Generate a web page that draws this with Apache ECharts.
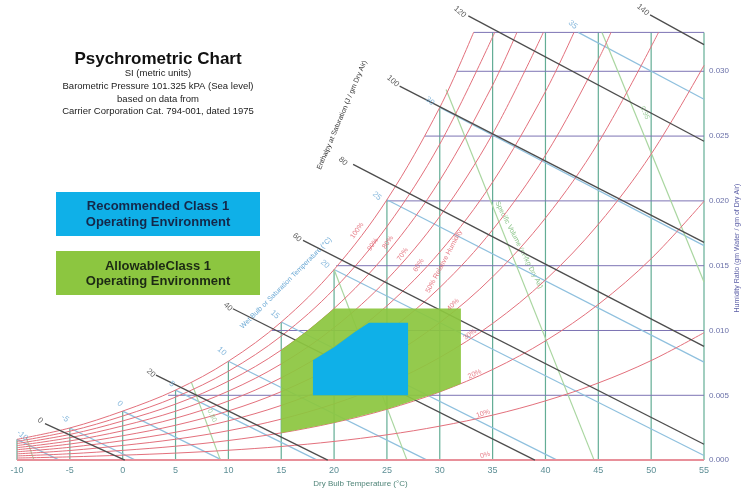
<!DOCTYPE html>
<html><head><meta charset="utf-8">
<script src="https://cdn.jsdelivr.net/npm/echarts@6/dist/echarts.min.js"></script>
<style>html,body{margin:0;padding:0;background:#fff}#chart{width:745px;height:493px}</style>
</head><body><div id="chart"></div>
<script>
// ---------- data (dry bulb °C, humidity ratio kg/kg) ----------
const dryBulbTicks = [-10,-5,0,5,10,15,20,25,30,35,40,45,50,55];
const dryBulbTop = [0.00160,0.00248,0.00378,0.00540,0.00763,0.01065,0.01470,0.02009,0.02721,0.033,0.033,0.033,0.033,0.033];
const humidityLevels = [0.005,0.010,0.015,0.020,0.025,0.030,0.033];
const humidityStartT = [4.3,14.1,20.2,25.0,28.6,31.6,33.2];

const rh100 = [[-10,0.00160],[-5,0.00248],[0,0.00378],[5,0.00540],[10,0.00763],[15,0.01065],[20,0.01470],[25,0.02009],[30,0.02721],[33.2,0.033]];
const rh90 = [[-10,0.00144],[-5,0.00223],[0,0.00340],[5,0.00486],[10,0.00686],[15,0.00957],[20,0.01320],[25,0.01802],[30,0.02438],[35.2,0.033]];
const rh80 = [[-10,0.00128],[-5,0.00198],[0,0.00302],[5,0.00432],[10,0.00609],[15,0.00849],[20,0.01170],[25,0.01597],[30,0.02158],[35,0.02893],[37.3,0.033]];
const rh70 = [[-10,0.00112],[-5,0.00173],[0,0.00264],[5,0.00377],[10,0.00532],[15,0.00742],[20,0.01022],[25,0.01393],[30,0.01880],[35,0.02517],[39.8,0.033]];
const rh60 = [[-10,0.00096],[-5,0.00148],[0,0.00226],[5,0.00323],[10,0.00456],[15,0.00635],[20,0.00874],[25,0.01190],[30,0.01605],[35,0.02145],[40,0.02844],[42.7,0.033]];
const rh50 = [[-10,0.00080],[-5,0.00124],[0,0.00188],[5,0.00269],[10,0.00379],[15,0.00528],[20,0.00726],[25,0.00988],[30,0.01331],[35,0.01777],[40,0.02352],[45,0.03091],[46.2,0.033]];
const rh40 = [[-10,0.00064],[-5,0.00099],[0,0.00150],[5,0.00215],[10,0.00303],[15,0.00422],[20,0.00580],[25,0.00788],[30,0.01061],[35,0.01414],[40,0.01868],[45,0.02449],[50.7,0.033]];
const rh30 = [[-10,0.00048],[-5,0.00074],[0,0.00113],[5,0.00161],[10,0.00227],[15,0.00316],[20,0.00434],[25,0.00589],[30,0.00792],[35,0.01054],[40,0.01390],[45,0.01819],[50,0.02361],[55,0.03045]];
const rh20 = [[-10,0.00032],[-5,0.00049],[0,0.00075],[5,0.00107],[10,0.00151],[15,0.00210],[20,0.00289],[25,0.00392],[30,0.00526],[35,0.00699],[40,0.00920],[45,0.01201],[50,0.01554],[55,0.01997]];
const rh10 = [[-10,0.00016],[-5,0.00025],[0,0.00038],[5,0.00054],[10,0.00076],[15,0.00105],[20,0.00144],[25,0.00195],[30,0.00262],[35,0.00347],[40,0.00457],[45,0.00595],[50,0.00768],[55,0.00983]];
const rh0 = [[-10,0],[55,0]];

const enthalpyLines = [
  [[-7.35,0.00282],[0.2,0]],
  [[3.15,0.00656],[19.4,0]],
  [[10.43,0.01168],[39.0,0]],
  [[17.06,0.01695],[55,0.00122]],
  [[21.8,0.02282],[55,0.00878]],
  [[26.2,0.02885],[55,0.0168]],
  [[32.7,0.03427],[55,0.0246]],
  [[49.9,0.03435],[55,0.03206]]
];
const enthalpyLabels = ['0','20','40','60','80','100','120','140'];
const enthalpyLabelPos = [[-7.82,0.00305],[2.68,0.00672],[9.96,0.01183],[16.49,0.01718],[20.84,0.02306],[25.57,0.02924],[31.91,0.03458],[49.22,0.03474]];

const wetBulbLines = [
  [[-10,0.00160],[-6.0,0]],
  [[-5,0.00248],[1.2,0]],
  [[0,0.00378],[9.4,0]],
  [[5,0.00540],[18.4,0]],
  [[10,0.00763],[28.8,0]],
  [[15,0.01065],[41.1,0]],
  [[20,0.01470],[55,0.00035]],
  [[25,0.02009],[55,0.00756]],
  [[30,0.02721],[55,0.01655]],
  [[43.1,0.033],[55,0.02784]]
];
const wetBulbLabels = ['-10','-5','0','5','10','15','20','25','30','35'];
const wetBulbLabelPos = [[-9.5,0.00190],[-5.46,0.00321],[-0.26,0.00435],[4.66,0.00588],[9.39,0.00840],[14.41,0.01122],[19.14,0.01512],[24.06,0.02038],[29.07,0.02771],[42.6,0.03359]];

const volumeLines = [
  [[-9.1,0.0017],[-8.4,0]],
  [[6.5,0.0060],[9.25,0]],
  [[20.0,0.0147],[26.9,0]],
  [[30.6,0.0286],[44.6,0]],
  [[45.35,0.033],[55,0.01374]]
];
const volumeLabels = ['0.80','0.95'];
const volumeLabelPos = [[8.45,0.00344],[49.4,0.02680]];

const rhLabels = ['100%','90%','80%','70%','60%','50% Relative Humidity','40%','30%','20%','10%','0%'];
const rhLabelPos = [[22.17,0.01771],[23.68,0.01664],[25.1,0.01680],[26.5,0.01588],[28.0,0.01504],[30.4,0.01534],[31.25,0.01199],[32.86,0.00970],[33.3,0.00664],[34.1,0.00359],[34.3,0.00038]];
const rhLabelRot = [55,55,55,55,58,62,45,35,25,20,15];

const allowableArea = [[15,0.0021],[15,0.0085],[17.5,0.0100],[20,0.0117],[32,0.0117],[32,0.0059],[30,0.00526],[25,0.00392],[20,0.00289],[15,0.0021]];
const recommendedArea = [[18,0.0050],[18,0.0077],[20,0.0087],[22,0.0099],[23.3,0.0106],[27,0.0106],[27,0.0050]];

// ---------- chart ----------
const FONT = 'Liberation Sans, Arial, sans-serif';
const series = [];
function addLine(data, color, width, z, smooth) {
  series.push({type:'line', data:data, symbol:'none', silent:true, smooth:smooth||false,
    lineStyle:{color:color, width:width}, z:z, clip:false, animation:false});
}
dryBulbTicks.forEach((t,i)=>addLine([[t,0],[t,dryBulbTop[i]]], '#63ad95', 1.2, 2));
humidityLevels.forEach((w,i)=>addLine([[humidityStartT[i],w],[55,w]], '#7d74b4', 1, 2));
wetBulbLines.forEach(d=>addLine(d, '#8fc0de', 1.2, 3));
volumeLines.forEach(d=>addLine(d, '#a9d6a0', 1.2, 3));
[rh100,rh90,rh80,rh70,rh60,rh50,rh40,rh30,rh20,rh10].forEach(d=>addLine(d, '#e3707c', 1, 4, 0.35));
addLine(rh0, '#e8909a', 2, 4);
enthalpyLines.forEach(d=>addLine(d, '#4d4d4d', 1.3, 4));

function polySeries(pts, color, z, opacity) {
  return {type:'custom', coordinateSystem:'cartesian2d', silent:true, z:z, animation:false,
    data:[pts[0]],
    renderItem:(params, api)=>({type:'polygon', shape:{points:pts.map(p=>api.coord(p))},
      style:{fill:color, opacity:opacity}})};
}
series.push(polySeries(allowableArea, '#8cc640', 6, 0.93));
series.push(polySeries(recommendedArea, '#0fb0e8', 7, 1));

function labelSeries(pos, texts, color, rot, size) {
  return {type:'scatter', symbolSize:0, silent:true, z:10, animation:false,
    data: pos.map((p,i)=>({value:p, name:texts[i],
      label:{show:true, position:'inside', formatter:'{b}', color:color, fontSize:size, fontFamily:FONT,
        rotate: Array.isArray(rot)? rot[i] : rot}}))};
}
series.push(labelSeries(enthalpyLabelPos, enthalpyLabels, '#333', -40, 8));
series.push(labelSeries(wetBulbLabelPos, wetBulbLabels, '#6aa8d4', -40, 8));
series.push(labelSeries(volumeLabelPos, volumeLabels, '#8cc58a', -65, 7));
series.push(labelSeries(rhLabelPos, rhLabels, '#e05a68', rhLabelRot, 7));

const option = {
  backgroundColor:'#fff',
  animation:false,
  grid:{left:17, right:41, top:0, bottom:28},
  xAxis:{type:'value', min:-10, max:55, interval:5,
    axisLine:{show:false}, axisTick:{show:false}, splitLine:{show:false},
    axisLabel:{color:'#5e8f96', fontSize:9, fontFamily:FONT, margin:6},
    name:'Dry Bulb Temperature (°C)', nameLocation:'middle', nameGap:18,
    nameTextStyle:{color:'#4f8478', fontSize:8, fontFamily:FONT}},
  yAxis:{type:'value', position:'right', min:0, max:0.0355, interval:0.005,
    axisLine:{show:false}, axisTick:{show:false}, splitLine:{show:false},
    axisLabel:{color:'#6a70a8', fontSize:8, fontFamily:FONT, margin:5,
      formatter:v=> v>0.031 ? '' : v.toFixed(3)}},
  graphic:[
    {type:'text', x:158, y:59, style:{text:'Psychrometric Chart', font:'bold 17px '+FONT, fill:'#111', align:'center', verticalAlign:'middle'}},
    {type:'text', x:158, y:73, style:{text:'SI (metric units)', font:'9.5px '+FONT, fill:'#222', align:'center', verticalAlign:'middle'}},
    {type:'text', x:158, y:86, style:{text:'Barometric Pressure 101.325 kPA (Sea level)', font:'9.5px '+FONT, fill:'#222', align:'center', verticalAlign:'middle'}},
    {type:'text', x:158, y:99, style:{text:'based on data from', font:'9.5px '+FONT, fill:'#222', align:'center', verticalAlign:'middle'}},
    {type:'text', x:158, y:111, style:{text:'Carrier Corporation Cat. 794-001, dated 1975', font:'9.5px '+FONT, fill:'#222', align:'center', verticalAlign:'middle'}},
    {type:'rect', shape:{x:56, y:192, width:204, height:44}, style:{fill:'#0fb0e8'}},
    {type:'text', x:158, y:206, style:{text:'Recommended Class 1', font:'bold 13px '+FONT, fill:'#14284a', align:'center', verticalAlign:'middle'}},
    {type:'text', x:158, y:222, style:{text:'Operating Environment', font:'bold 13px '+FONT, fill:'#14284a', align:'center', verticalAlign:'middle'}},
    {type:'rect', shape:{x:56, y:251, width:204, height:44}, style:{fill:'#8cc640'}},
    {type:'text', x:158, y:266, style:{text:'AllowableClass 1', font:'bold 13px '+FONT, fill:'#1c2a14', align:'center', verticalAlign:'middle'}},
    {type:'text', x:158, y:281, style:{text:'Operating Environment', font:'bold 13px '+FONT, fill:'#1c2a14', align:'center', verticalAlign:'middle'}},
    {type:'text', x:737, y:248, rotation:Math.PI/2, style:{text:'Humidity Ratio (gm Water / gm of Dry Air)', font:'7px '+FONT, fill:'#5b5ea6', align:'center', verticalAlign:'middle'}},
    {type:'text', x:342, y:115, rotation:67*Math.PI/180, style:{text:'Enthalpy at Saturation (J / gm Dry Air)', font:'7px '+FONT, fill:'#333', align:'center', verticalAlign:'middle'}},
    {type:'text', x:286, y:283, rotation:45*Math.PI/180, style:{text:'Wet Bulb or Saturation Temperature (°C)', font:'7px '+FONT, fill:'#6aa8d4', align:'center', verticalAlign:'middle'}},
    {type:'text', x:519, y:245, rotation:-63*Math.PI/180, style:{text:'Specific Volume (m³/kg Dry Air)', font:'7px '+FONT, fill:'#8cc58a', align:'center', verticalAlign:'middle'}}
  ],
  series: series
};
const chart = echarts.init(document.getElementById('chart'), null, {renderer:'canvas'});
chart.setOption(option);
</script>
</body></html>
